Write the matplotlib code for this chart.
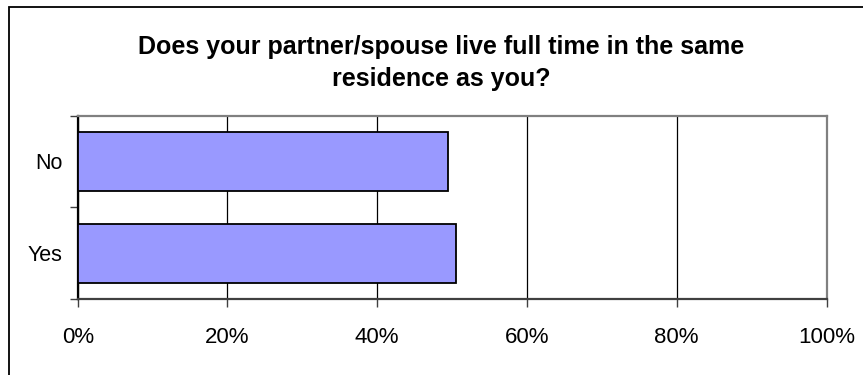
import matplotlib
matplotlib.use("Agg")
import matplotlib.pyplot as plt
from matplotlib.patches import Rectangle
from matplotlib.ticker import FuncFormatter

plt.rcParams['font.family'] = ['Liberation Sans', 'DejaVu Sans']

categories = ["Yes", "No"]
values = [50.5, 49.5]
xticks = [0, 20, 40, 60, 80, 100]
title = "Does your partner/spouse live full time in the same\nresidence as you?"

W, H = 863, 375
fig = plt.figure(figsize=(W / 100, H / 100), dpi=100)

# outer chart border (cut off at right and bottom in the original)
fig.patches.append(Rectangle((8.5 / W, -0.05), 1.0, 1 - 6.5 / H + 0.05,
                             transform=fig.transFigure, fill=False,
                             edgecolor='black', linewidth=1.3))

ax = fig.add_axes([77.7 / W, 76 / H, (826.5 - 77.7) / W, (299 - 115.5) / H])

ax.barh(range(len(categories)), values, height=0.645, color='#9999FF',
        edgecolor='black', linewidth=1.3, zorder=3)

ax.set_xlim(0, 100)
ax.set_ylim(-0.5, len(categories) - 0.5)
ax.set_xticks(xticks)
ax.xaxis.set_major_formatter(FuncFormatter(lambda v, p: f"{v:.0f}%"))
ax.set_yticks(range(len(categories)))
ax.set_yticklabels(categories)
ax.set_yticks([-0.5, 0.5, 1.5], minor=True)

ax.tick_params(axis='x', length=6, width=1, color='#404040', pad=14,
               labelsize=16)
ax.tick_params(axis='y', which='major', length=0, pad=11, labelsize=15.5)
ax.tick_params(axis='y', which='minor', length=6, width=1, color='#404040')

ax.grid(axis='x', color='black', linewidth=0.9, zorder=0)

ax.spines['left'].set_color('black')
ax.spines['left'].set_linewidth(1.6)
ax.spines['bottom'].set_color('#404040')
ax.spines['bottom'].set_linewidth(1.6)
for s in ['top', 'right']:
    ax.spines[s].set_color('#808080')
    ax.spines[s].set_linewidth(1.6)

fig.text(441 / W, 1 - 63 / H, title, ha='center', va='center',
         fontsize=18, fontweight='bold', linespacing=1.45)

fig.savefig("out.png", dpi=100)
